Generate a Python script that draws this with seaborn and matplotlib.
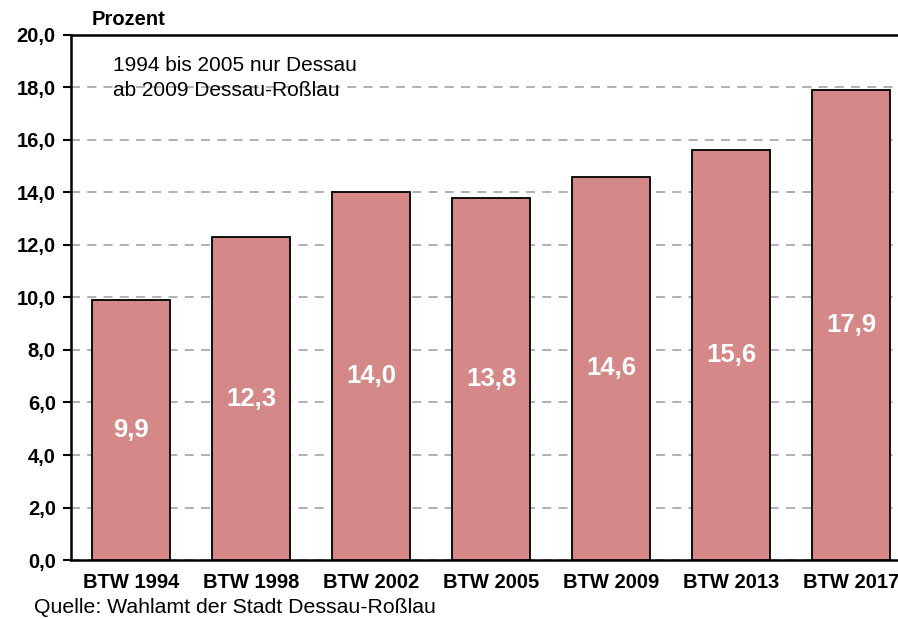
import seaborn as sns
import matplotlib.pyplot as plt
import numpy as np

wahlen = ["BTW 1994", "BTW 1998", "BTW 2002", "BTW 2005", "BTW 2009", "BTW 2013", "BTW 2017"]
prozent = [9.9, 12.3, 14.0, 13.8, 14.6, 15.6, 17.9]
y_ticks = [0, 2, 4, 6, 8, 10, 12, 14, 16, 18, 20]

sns.set_style("white", {"text.color": "black", "xtick.color": "black", "ytick.color": "black"})
plt.rcParams["font.family"] = ["Liberation Sans", "DejaVu Sans"]

fig = plt.figure(figsize=(8.98, 6.19), dpi=100)
ax = fig.add_axes([0.0791, 0.0953, 0.9354, 0.8482])

sns.barplot(x=wahlen, y=prozent, color="#D48888", saturation=1, width=0.65,
            edgecolor="black", linewidth=1.3, ax=ax, zorder=3)

# Werte in die Balken
for i, v in enumerate(prozent):
    ax.text(i, v / 2, f"{v:.1f}".replace(".", ","), color="white", fontsize=18.5,
            fontweight="bold", ha="center", va="center", zorder=4)

ax.set_ylim(0, 20)
ax.set_xlim(-0.5, len(wahlen) - 0.5)
ax.set_yticks(y_ticks)
ax.set_yticklabels([f"{t:.1f}".replace(".", ",") for t in y_ticks], fontsize=14.5, fontweight="bold")
ax.set_xticks(range(len(wahlen)))
ax.set_xticklabels(wahlen, fontsize=14.5, fontweight="bold")
ax.set_xticks(np.arange(-0.5, len(wahlen), 1), minor=True)
ax.tick_params(axis="x", which="major", length=0, pad=9, labelcolor="black")
ax.tick_params(axis="x", which="minor", length=6, width=1.5, direction="out", color="black")
ax.tick_params(axis="y", length=6, width=1.5, direction="out", color="black", left=True, pad=5,
               labelcolor="black")
ax.set_xlabel("")
ax.set_ylabel("")

ax.yaxis.grid(True, linestyle=(0, (5, 4)), color="#AAAAAA", linewidth=1.3, zorder=0)
ax.xaxis.grid(False)
for s in ["left", "bottom", "top"]:
    ax.spines[s].set_color("black")
    ax.spines[s].set_linewidth(1.8)
ax.spines["right"].set_visible(False)

fig.text(0.102, 0.953, "Prozent", fontsize=14.5, fontweight="bold", ha="left", va="bottom",
         color="black")
ax.text(0.05, 0.96, "1994 bis 2005 nur Dessau\nab 2009 Dessau-Roßlau", transform=ax.transAxes,
        fontsize=15, ha="left", va="top", linespacing=1.4, zorder=5, color="black")
fig.text(0.038, 0.003, "Quelle: Wahlamt der Stadt Dessau-Roßlau", fontsize=15.3, ha="left",
         va="bottom", color="black")

fig.savefig("out.png", dpi=100)
